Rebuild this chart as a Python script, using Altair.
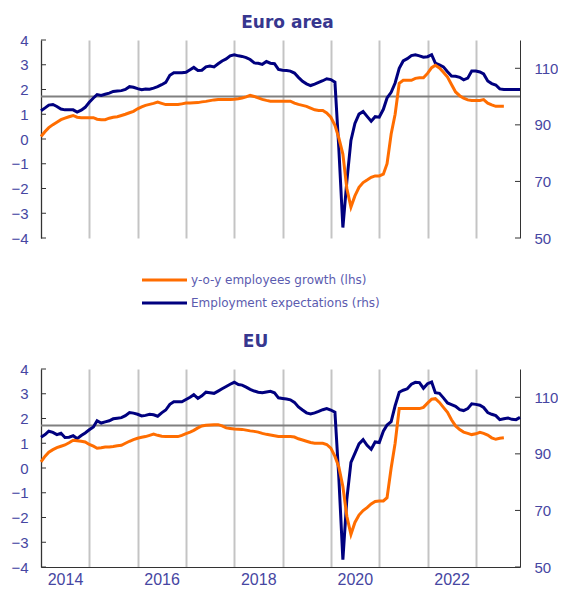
import altair as alt
import pandas as pd

# ---------------- data ----------------
months = [d.strftime("%Y-%m-%d") for d in pd.date_range("2014-01-01", "2023-12-01", freq="MS")]

ea_growth = [0.10, 0.30, 0.46, 0.58, 0.68, 0.78, 0.84, 0.90, 0.95, 0.88,
             0.86, 0.86, 0.86, 0.86, 0.80, 0.78, 0.78, 0.84, 0.88, 0.90,
             0.95, 1.00, 1.06, 1.12, 1.22, 1.30, 1.36, 1.40, 1.44, 1.49,
             1.44, 1.39, 1.39, 1.39, 1.39, 1.42, 1.45, 1.45, 1.46, 1.47,
             1.50, 1.52, 1.55, 1.58, 1.60, 1.60, 1.60, 1.60, 1.61, 1.63,
             1.66, 1.70, 1.76, 1.72, 1.66, 1.60, 1.56, 1.53, 1.53, 1.53,
             1.53, 1.53, 1.53, 1.45, 1.40, 1.36, 1.32, 1.25, 1.18, 1.15,
             1.15, 1.05, 0.88, 0.55, 0.05, -0.61, -2.0, -2.75, -2.30, -1.95,
             -1.76, -1.66, -1.55, -1.49, -1.49, -1.42, -1.0, 0.2, 1.0, 2.25,
             2.37, 2.37, 2.37, 2.45, 2.47, 2.47, 2.65, 2.88, 2.98, 2.87,
             2.70, 2.50, 2.20, 1.90, 1.75, 1.65, 1.58, 1.56, 1.56, 1.56,
             1.59, 1.45, 1.38, 1.32, 1.32, 1.32]

ea_expect = [95.0, 96.0, 97.0, 97.2, 96.5, 95.6, 95.3, 95.3, 95.3, 94.5,
             95.2, 96.2, 98.0, 99.5, 100.7, 100.4, 100.8, 101.2, 101.8, 102.0,
             102.1, 102.5, 103.5, 103.3, 102.8, 102.4, 102.7, 102.6, 103.0, 103.5,
             104.2, 105.0, 107.5, 108.4, 108.4, 108.4, 108.6, 109.5, 110.3, 109.2,
             109.3, 110.5, 110.8, 110.5, 111.6, 112.6, 113.3, 114.4, 114.8, 114.4,
             114.2, 113.8, 113.1, 111.9, 111.8, 111.4, 112.4, 111.8, 111.6, 109.6,
             109.3, 109.2, 109.0, 108.3, 106.8, 105.4, 104.5, 103.9, 104.4, 105.0,
             105.6, 106.3, 106.0, 105.1, 82.0, 53.7, 70.0, 84.5, 90.5, 93.8,
             94.7, 93.0, 91.3, 92.9, 92.7, 95.5, 99.5, 101.5, 104.8, 110.0,
             112.6, 113.4, 114.5, 114.8, 114.4, 113.9, 114.1, 114.8, 111.8, 111.2,
             110.5, 108.8, 107.3, 107.2, 106.8, 105.9, 106.5, 109.0, 109.0, 108.7,
             108.0, 105.5, 104.6, 104.1, 102.7, 102.5, 102.5, 102.5, 102.5, 102.5]

eu_growth = [0.25, 0.48, 0.64, 0.74, 0.82, 0.88, 0.93, 1.02, 1.12, 1.10,
             1.08, 1.05, 0.95, 0.88, 0.80, 0.82, 0.85, 0.85, 0.87, 0.90,
             0.92, 1.00, 1.08, 1.15, 1.20, 1.24, 1.27, 1.32, 1.37, 1.32,
             1.28, 1.27, 1.27, 1.27, 1.27, 1.32, 1.39, 1.45, 1.52, 1.62,
             1.70, 1.73, 1.74, 1.75, 1.75, 1.70, 1.62, 1.60, 1.58, 1.57,
             1.56, 1.53, 1.50, 1.48, 1.45, 1.40, 1.36, 1.33, 1.30, 1.27,
             1.27, 1.27, 1.27, 1.25, 1.18, 1.13, 1.08, 1.03, 1.00, 1.00,
             1.00, 0.95, 0.80, 0.47, 0.05, -0.75, -1.95, -2.68, -2.20, -1.90,
             -1.72, -1.60, -1.45, -1.35, -1.33, -1.33, -1.20, 0.0, 1.0, 2.40,
             2.40, 2.40, 2.40, 2.40, 2.40, 2.45, 2.62, 2.78, 2.80, 2.65,
             2.45, 2.25, 1.95, 1.70, 1.55, 1.45, 1.40, 1.35, 1.38, 1.44,
             1.40, 1.33, 1.22, 1.16, 1.20, 1.22]

eu_expect = [95.9, 96.8, 98.0, 97.6, 96.8, 97.3, 95.8, 95.9, 96.4, 95.4,
             96.5, 97.4, 98.5, 99.5, 101.7, 100.9, 101.3, 101.7, 102.4, 102.6,
             102.8, 103.5, 104.6, 104.4, 104.0, 103.4, 103.6, 104.0, 103.8, 103.3,
             104.5, 105.5, 107.5, 108.4, 108.4, 108.4, 109.2, 110.0, 110.9, 109.6,
             110.5, 111.8, 111.6, 111.4, 112.2, 113.0, 113.8, 114.6, 115.3, 114.5,
             114.3, 113.6, 112.8, 112.2, 111.8, 111.6, 111.9, 112.1, 111.6, 109.8,
             109.6, 109.4, 109.1, 108.2, 106.6, 105.5, 104.5, 104.1, 104.5, 105.0,
             105.6, 106.0, 105.5, 104.7, 82.0, 52.6, 74.0, 87.0, 90.2, 93.5,
             95.0, 93.0, 91.6, 94.2, 94.0, 98.0, 100.2, 101.4, 107.0, 111.8,
             112.5, 113.0, 114.6, 115.3, 115.2, 113.2, 114.8, 115.4, 111.6, 111.4,
             109.8, 108.0, 107.4, 106.8, 105.6, 105.3, 106.0, 107.7, 107.5, 107.2,
             106.4, 104.6, 104.0, 103.5, 102.1, 102.4, 102.7, 102.2, 102.1, 102.9]

series_names = ["y-o-y employees  growth (lhs)", "Employment expectations (rhs)"]
left_ticks = [-4, -3, -2, -1, 0, 1, 2, 3, 4]
right_ticks = [50, 70, 90, 110]
reference_level = [100]
grid_years = list(range(2014, 2024))

# ---------------- styles ----------------
ORANGE = "#FF6D00"
NAVY = "#00007F"
LABEL_COLOR = "#4646A2"
TITLE_COLOR = "#37378F"
AXIS_COLOR = "#333333"
W, H = 479, 198

x_scale = alt.Scale(domain=[alt.DateTime(year=2014, month=1, date=1),
                            alt.DateTime(year=2023, month=12, date=1)])
year_values = [alt.DateTime(year=y, month=1, date=1) for y in grid_years]


def x_axis(show_labels):
    if show_labels:
        return alt.Axis(values=year_values, grid=True, gridColor="#C4C4C4", gridWidth=2,
                        domain=True, domainColor=AXIS_COLOR, ticks=False,
                        labels=True, labelExpr="year(datum.value) % 2 == 0 ? timeFormat(datum.value, '%Y') : ''",
                        labelOffset=24, labelAlign="center", labelFlush=False, labelOverlap=False,
                        labelFont="Liberation Sans", labelFontSize=16, labelColor=LABEL_COLOR,
                        labelPadding=4, title=None)
    return alt.Axis(values=year_values, grid=True, gridColor="#C4C4C4", gridWidth=2,
                    domain=False, ticks=False, labels=False, title=None)


left_scale = alt.Scale(domain=[-4, 4], nice=False, zero=False)
right_scale = alt.Scale(domain=[50, 120], nice=False, zero=False)
left_axis = alt.Axis(values=left_ticks, grid=False, ticks=False, domainColor=AXIS_COLOR,
                     labelFont="Liberation Sans", labelFontSize=15, labelColor=LABEL_COLOR,
                     labelPadding=13, title=None)
right_axis = alt.Axis(orient="right", values=right_ticks, grid=False, ticks=False,
                      domainColor=AXIS_COLOR, labelFont="Liberation Sans", labelFontSize=15,
                      labelColor=LABEL_COLOR, labelPadding=14, title=None)


def panel(title, growth, expect, show_labels, title_offset, title_dx):
    g = pd.DataFrame({"date": months[:len(growth)], "v": growth})
    e = pd.DataFrame({"date": months[:len(expect)], "v": expect})
    x = alt.X("date:T", scale=x_scale, axis=x_axis(show_labels))
    yl = alt.Y("v:Q", scale=left_scale, axis=left_axis)
    yr = alt.Y("v:Q", scale=right_scale, axis=right_axis)

    lt = alt.Chart(pd.DataFrame({"v": left_ticks})).mark_rule(color=AXIS_COLOR, strokeWidth=1).encode(
        y=yl, x=alt.value(0), x2=alt.value(5))
    orange = alt.Chart(g).mark_line(color=ORANGE, strokeWidth=3).encode(x=x, y=yl)
    left = alt.layer(lt, orange)

    ref = alt.Chart(pd.DataFrame({"v": reference_level})).mark_rule(color="#808080", strokeWidth=2).encode(y=yr)
    rt = alt.Chart(pd.DataFrame({"v": right_ticks})).mark_rule(color=AXIS_COLOR, strokeWidth=1).encode(
        y=yr, x=alt.value(W - 5), x2=alt.value(W))
    navy = alt.Chart(e).mark_line(color=NAVY, strokeWidth=3).encode(x=x, y=yr)
    right = alt.layer(ref, rt, navy)

    return alt.layer(right, left).resolve_scale(y="independent").properties(
        width=W, height=H,
        title=alt.TitleParams(title, font="DejaVu Sans", fontSize=17, fontWeight="bold",
                              color=TITLE_COLOR, offset=title_offset, dx=title_dx))


top = panel("Euro area", ea_growth, ea_expect, False, 1, 7)
bottom = panel("EU", eu_growth, eu_expect, True, 11, -25)

leg_df = pd.DataFrame({"name": series_names})
leg_y = alt.Y("name:N", scale=alt.Scale(type="point", domain=series_names, range=[12, 35], padding=0),
              axis=None)
leg_color = alt.Color("name:N", scale=alt.Scale(domain=series_names, range=[ORANGE, NAVY]), legend=None)
leg_lines = alt.Chart(leg_df).mark_rule(strokeWidth=3).encode(
    y=leg_y, x=alt.value(101), x2=alt.value(146), color=leg_color)
leg_text = alt.Chart(leg_df).mark_text(align="left", baseline="middle", font="DejaVu Sans",
                                       fontSize=12, color="#5B5BAF").encode(
    y=leg_y, x=alt.value(150), text="name:N")
legend = alt.layer(leg_lines, leg_text).properties(width=W, height=71)

chart = alt.vconcat(top, legend, bottom, spacing=30, bounds="flush").properties(
    padding={"left": 2, "top": 6, "right": 0, "bottom": 2}
).configure_view(stroke=None)

chart.save("out.html", embed_options={"renderer": "svg", "actions": False})
